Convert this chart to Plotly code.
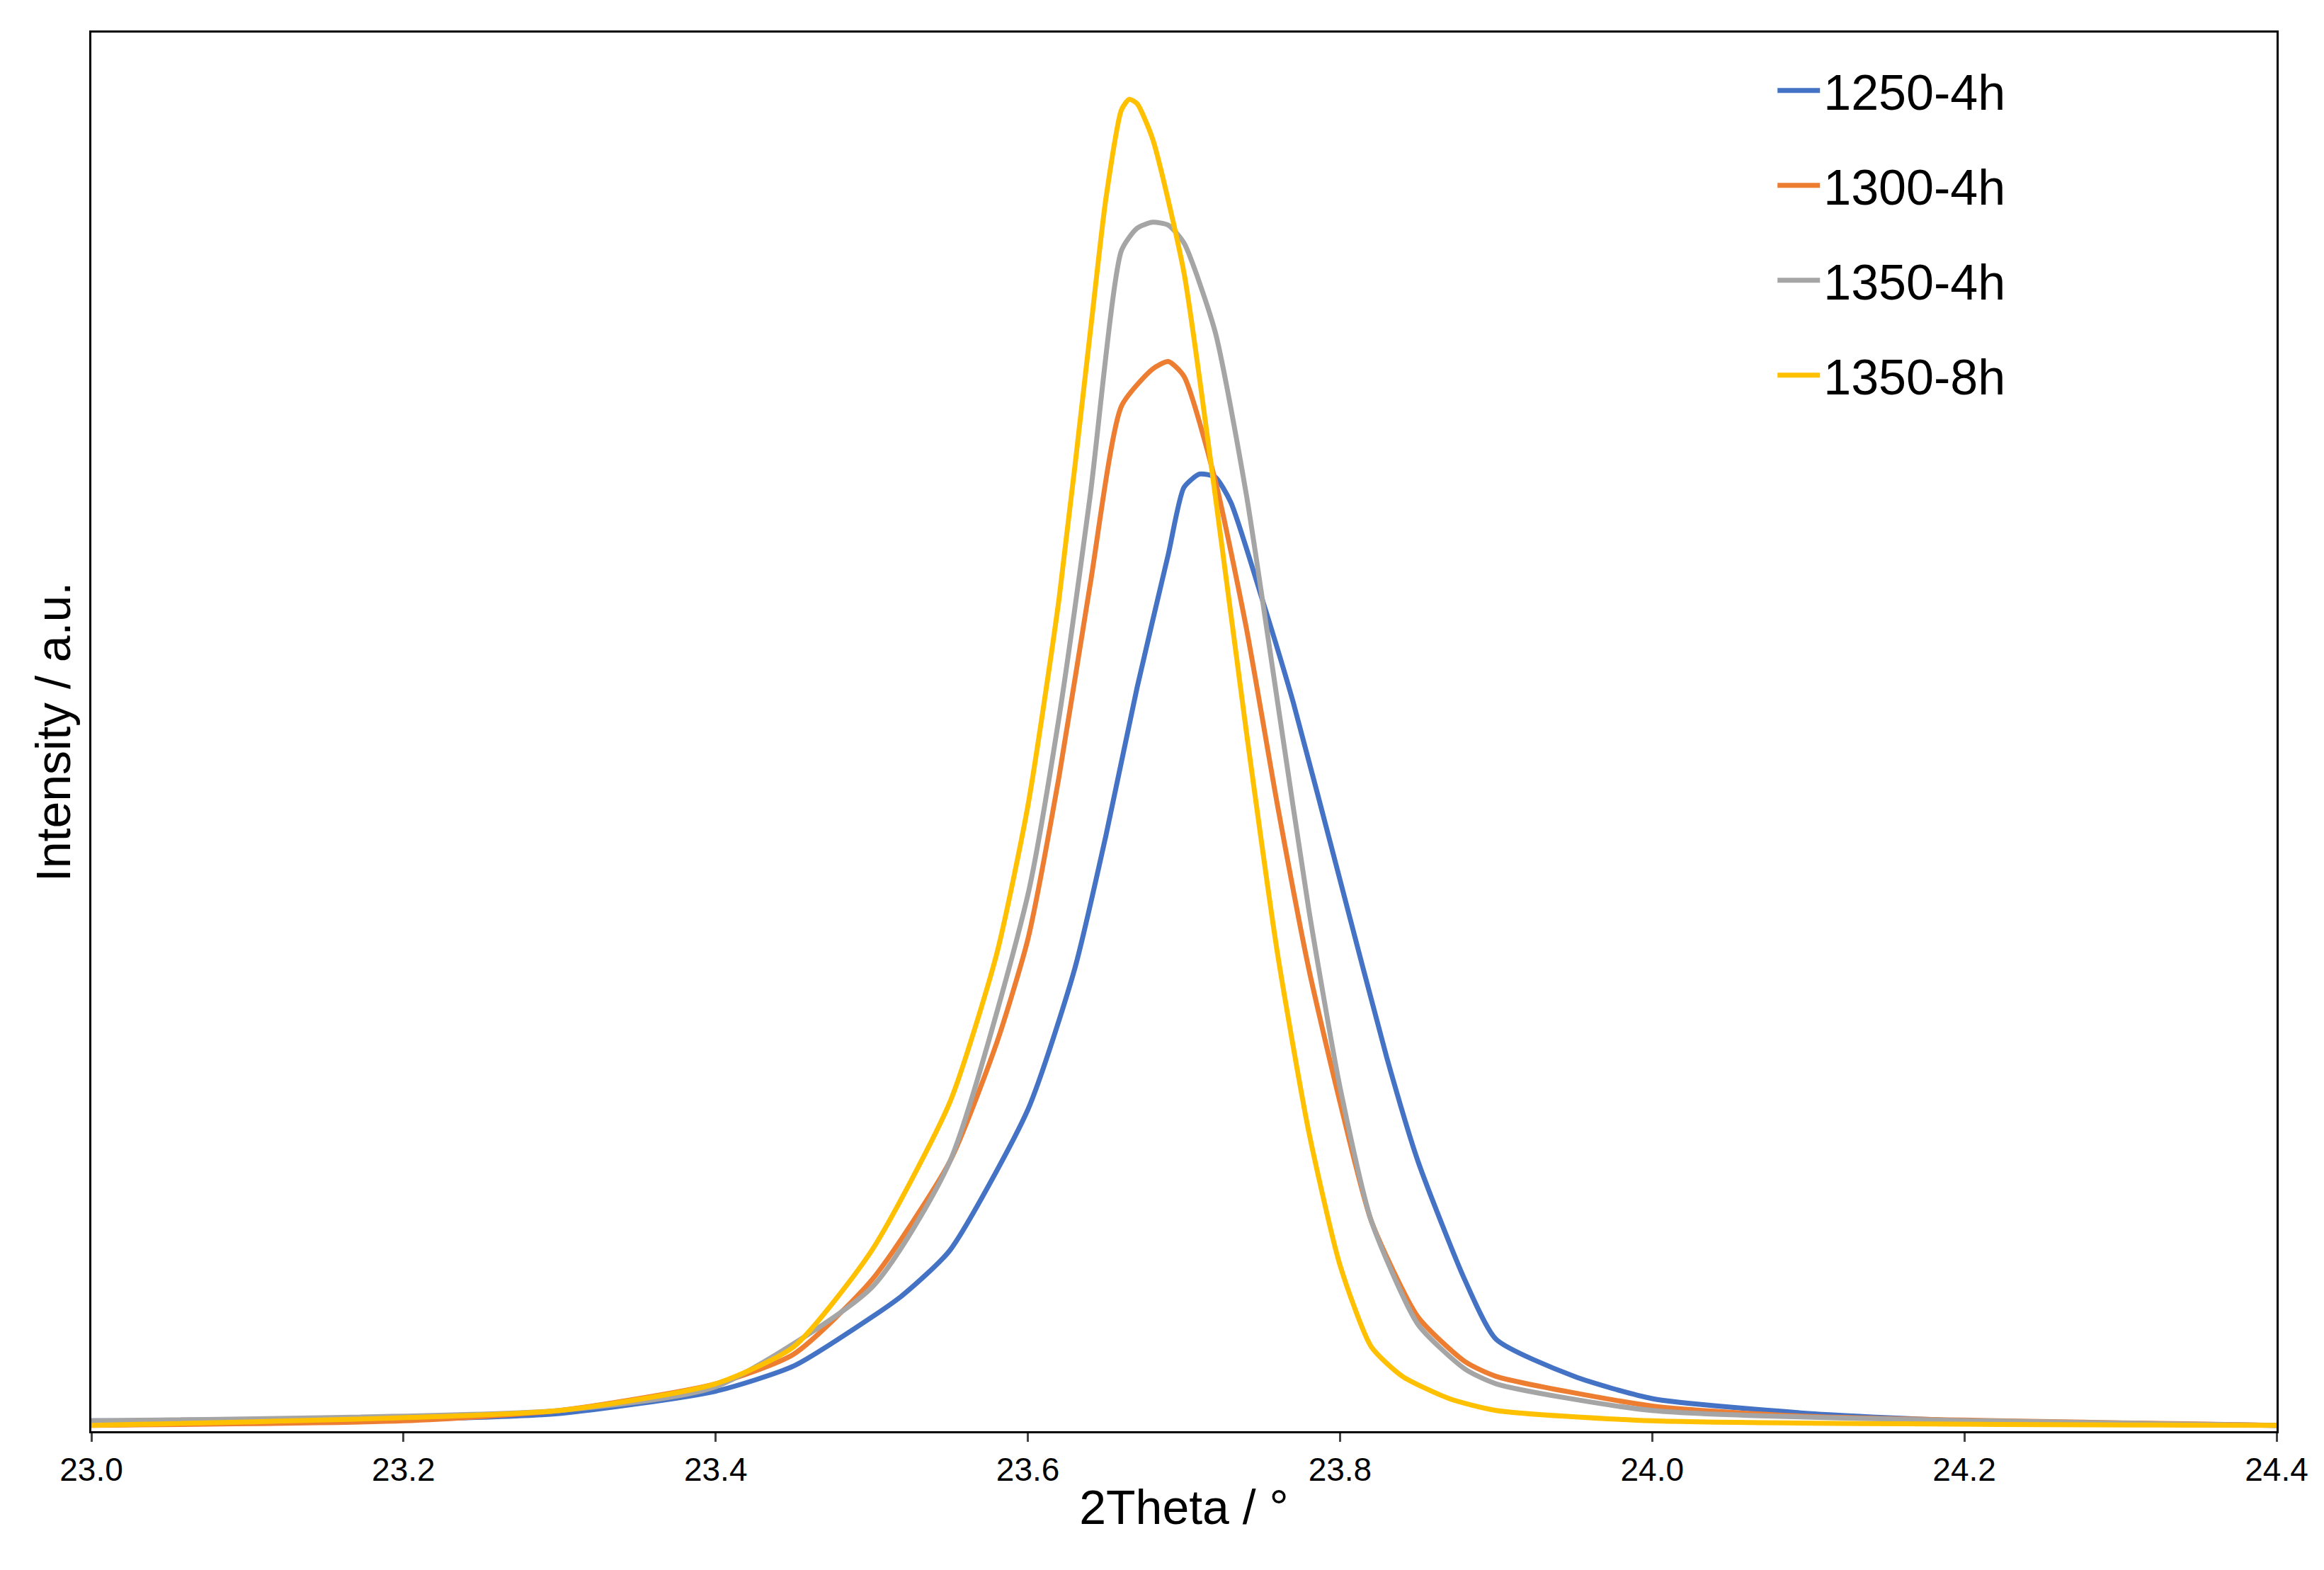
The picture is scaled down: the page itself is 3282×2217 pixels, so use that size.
import plotly.graph_objects as go

x_1250 = [23.0,23.2,23.3,23.4,23.45,23.5,23.52,23.55,23.6,23.63,23.65,23.67,23.69,23.70,23.71,23.72,23.73,23.75,23.77,23.8,23.83,23.85,23.88,23.9,23.95,24.0,24.1,24.2,24.4]
y_1250 = [7,8,12,27,44,77,92,122,217,312,402,502,592,637,646,644,627,562,492,372,252,182,102,62,37,22,12,7,4]
x_1300 = [23.0,23.2,23.3,23.4,23.45,23.5,23.55,23.58,23.6,23.62,23.64,23.66,23.68,23.69,23.7,23.72,23.74,23.76,23.78,23.8,23.82,23.85,23.88,23.9,24.0,24.1,24.4]
y_1300 = [4,7,14,32,52,102,182,262,332,442,572,692,717,722,712,642,542,422,312,222,142,77,47,37,17,10,4]
x_1350a = [23.0,23.3,23.4,23.5,23.55,23.6,23.62,23.64,23.66,23.67,23.68,23.69,23.7,23.72,23.74,23.76,23.78,23.8,23.82,23.85,23.88,23.9,24.0,24.4]
y_1350a = [7,14,30,97,182,362,482,632,797,812,816,814,802,742,632,492,352,232,142,72,42,32,14,4]
x_1350b = [23.0,23.3,23.4,23.45,23.5,23.55,23.58,23.6,23.62,23.64,23.65,23.66,23.665,23.67,23.68,23.7,23.72,23.74,23.76,23.78,23.8,23.82,23.84,23.87,23.9,24.0,24.4]
y_1350b = [4,14,32,57,122,222,322,422,562,742,832,892,899,896,872,782,632,472,322,202,112,57,37,22,14,7,4]

series = [("1250-4h", x_1250, y_1250, "#4472C4"),
          ("1300-4h", x_1300, y_1300, "#ED7D31"),
          ("1350-4h", x_1350a, y_1350a, "#A5A5A5"),
          ("1350-8h", x_1350b, y_1350b, "#FFC000")]

fig = go.Figure()
for name, xs, ys, c in series:
    fig.add_trace(go.Scatter(x=xs, y=ys, name=name, mode="lines", legendgroup=name,
                             line=dict(color=c, width=7, shape="spline", smoothing=0.6)))

fig.update_layout(
    width=3282, height=2217, paper_bgcolor="white", plot_bgcolor="white",
    margin=dict(l=121, r=75, t=38, b=204),
    font=dict(family="Liberation Sans, Arial", color="black"),
    legend=dict(x=0.77, y=0.985, xanchor="left", yanchor="top", font=dict(size=70),
                bgcolor="rgba(0,0,0,0)", tracegroupgap=40, traceorder="grouped", itemwidth=60),
    showlegend=True,
)
fig.update_xaxes(range=[23.0, 24.4], tickvals=[23.0,23.2,23.4,23.6,23.8,24.0,24.2,24.4],
                 ticktext=["23.0","23.2","23.4","23.6","23.8","24.0","24.2","24.4"],
                 ticks="outside", ticklen=12, tickwidth=3, tickfont=dict(size=46),
                 showline=True, linecolor="black", linewidth=3, mirror=True, showgrid=False,
                 title=dict(text="2Theta / °", font=dict(size=68), standoff=5))
fig.update_yaxes(range=[0, 944], showticklabels=False, ticks="",
                 showline=True, linecolor="black", linewidth=3, mirror=True, showgrid=False, zeroline=False,
                 title=dict(text="Intensity / a.u.", font=dict(size=68), standoff=5))
fig.write_html("out.html")
